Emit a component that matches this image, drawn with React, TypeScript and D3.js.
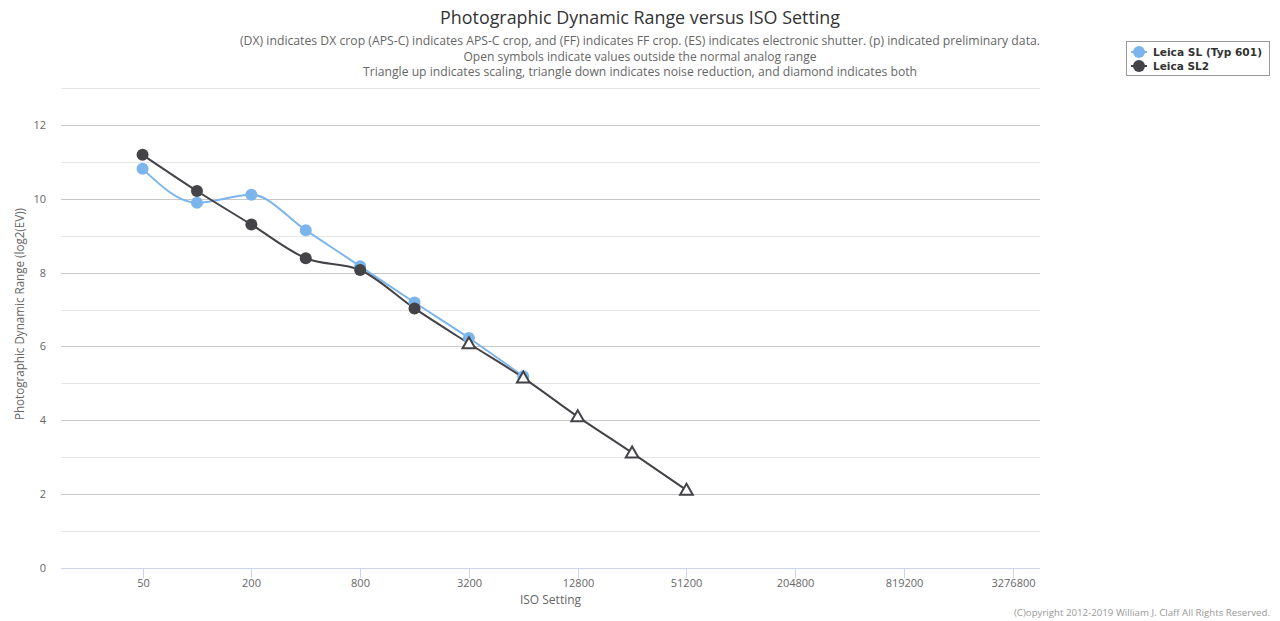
import { useEffect, useRef } from "react";
import * as d3 from "d3";

// ISO settings and measured dynamic range (EV)
const isoSL = [50, 100, 200, 400, 800, 1600, 3200, 6400];
const drSL = [10.81, 9.89, 10.11, 9.15, 8.17, 7.19, 6.23, 5.19];

const isoSL2 = [50, 100, 200, 400, 800, 1600, 3200, 6400, 12800, 25600, 51200];
const drSL2 = [11.19, 10.21, 9.3, 8.39, 8.07, 7.03, 6.08, 5.15, 4.1, 3.12, 2.11];
// open triangle = scaling (outside normal analog range)
const scaledSL2 = [false, false, false, false, false, false, true, true, true, true, true];

const seriesNames = ["Leica SL (Typ 601)", "Leica SL2"];
const seriesColors = ["#7cb5ec", "#434348"];

const xTicks = [50, 200, 800, 3200, 12800, 51200, 204800, 819200, 3276800];
const yTicks = [0, 2, 4, 6, 8, 10, 12];

const titleText = "Photographic Dynamic Range versus ISO Setting";
const subtitleLines = [
  "(DX) indicates DX crop (APS-C) indicates APS-C crop, and (FF) indicates FF crop. (ES) indicates electronic shutter. (p) indicated preliminary data.",
  "Open symbols indicate values outside the normal analog range",
  "Triangle up indicates scaling, triangle down indicates noise reduction, and diamond indicates both",
];

const FONT = "'Open Sans', 'DejaVu Sans', sans-serif";

export default function App() {
  const svgRef = useRef<SVGSVGElement>(null);
  const width = 1280;
  const height = 621;

  useEffect(() => {
    if (!svgRef.current) return;
    const svg = d3.select(svgRef.current);
    svg.selectAll("*").remove();

    const margin = { top: 88, right: 240, bottom: 53, left: 61 };
    const innerW = width - margin.left - margin.right;
    const innerH = height - margin.top - margin.bottom;

    const x = d3
      .scaleLog()
      .base(2)
      .domain([50 / Math.pow(2, 1.5), 3276800 * Math.pow(2, 0.5)])
      .range([margin.left, margin.left + innerW]);
    const y = d3.scaleLinear().domain([0, 13]).range([margin.top + innerH, margin.top]);

    // title + subtitle
    svg
      .append("text")
      .attr("x", 640)
      .attr("y", 24)
      .attr("text-anchor", "middle")
      .attr("font-family", FONT)
      .attr("font-size", 18)
      .attr("fill", "#333333")
      .attr("textLength", 400)
      .attr("lengthAdjust", "spacingAndGlyphs")
      .text(titleText);

    const subLens = [800, 353, 554];
    subtitleLines.forEach((line, i) => {
      svg
        .append("text")
        .attr("x", 640)
        .attr("y", 45 + i * 15.5)
        .attr("text-anchor", "middle")
        .attr("font-family", FONT)
        .attr("font-size", 12)
        .attr("fill", "#666666")
        .attr("textLength", subLens[i])
        .attr("lengthAdjust", "spacingAndGlyphs")
        .text(line);
    });

    // gridlines
    const grid = svg.append("g");
    d3.range(1, 14).forEach((v) => {
      grid
        .append("line")
        .attr("x1", margin.left)
        .attr("x2", margin.left + innerW)
        .attr("y1", Math.round(y(v)) + 0.5)
        .attr("y2", Math.round(y(v)) + 0.5)
        .attr("stroke", v % 2 === 0 ? "#c8c8c8" : "#e6e6e6")
        .attr("stroke-width", 1);
    });

    // x axis line + ticks
    const xAxis = svg.append("g");
    xAxis
      .append("line")
      .attr("x1", margin.left)
      .attr("x2", margin.left + innerW)
      .attr("y1", Math.round(y(0)) + 0.5)
      .attr("y2", Math.round(y(0)) + 0.5)
      .attr("stroke", "#ccd6eb");
    xTicks.forEach((t) => {
      const px = Math.round(x(t)) + 0.5;
      xAxis
        .append("line")
        .attr("x1", px)
        .attr("x2", px)
        .attr("y1", y(0))
        .attr("y2", y(0) + 10)
        .attr("stroke", "#ccd6eb");
      xAxis
        .append("text")
        .attr("x", px)
        .attr("y", y(0) + 19)
        .attr("text-anchor", "middle")
        .attr("font-family", FONT)
        .attr("font-size", 11)
        .attr("fill", "#666666")
        .text(String(t));
    });
    svg
      .append("text")
      .attr("x", margin.left + innerW / 2)
      .attr("y", 604)
      .attr("text-anchor", "middle")
      .attr("font-family", FONT)
      .attr("font-size", 12)
      .attr("fill", "#666666")
      .text("ISO Setting");

    // y axis labels
    yTicks.forEach((t) => {
      svg
        .append("text")
        .attr("x", 46)
        .attr("y", y(t) + 4)
        .attr("text-anchor", "end")
        .attr("font-family", FONT)
        .attr("font-size", 11)
        .attr("fill", "#666666")
        .text(String(t));
    });
    svg
      .append("text")
      .attr("transform", `translate(24,314) rotate(-90)`)
      .attr("text-anchor", "middle")
      .attr("font-family", FONT)
      .attr("font-size", 12)
      .attr("fill", "#666666")
      .attr("textLength", 212)
      .attr("lengthAdjust", "spacingAndGlyphs")
      .text("Photographic Dynamic Range (log2(EV))");

    // lines
    const line = d3
      .line<[number, number]>()
      .x((d) => x(d[0]))
      .y((d) => y(d[1]))
      .curve(d3.curveMonotoneX);

    const dataSL: [number, number][] = isoSL.map((iso, i) => [iso, drSL[i]]);
    const dataSL2: [number, number][] = isoSL2.map((iso, i) => [iso, drSL2[i]]);

    svg
      .append("path")
      .attr("d", line(dataSL))
      .attr("fill", "none")
      .attr("stroke", seriesColors[0])
      .attr("stroke-width", 2);
    svg
      .append("path")
      .attr("d", line(dataSL2))
      .attr("fill", "none")
      .attr("stroke", seriesColors[1])
      .attr("stroke-width", 2);

    // markers
    svg
      .append("g")
      .selectAll("circle")
      .data(dataSL)
      .enter()
      .append("circle")
      .attr("cx", (d) => x(d[0]))
      .attr("cy", (d) => y(d[1]))
      .attr("r", 6)
      .attr("fill", seriesColors[0]);

    const tri = d3.symbol().type(d3.symbolTriangle).size(70);
    const g2 = svg.append("g");
    dataSL2.forEach((d, i) => {
      if (scaledSL2[i]) {
        g2.append("path")
          .attr("d", tri())
          .attr("transform", `translate(${x(d[0])},${y(d[1]) + 1})`)
          .attr("fill", "#ffffff")
          .attr("stroke", seriesColors[1])
          .attr("stroke-width", 2);
      } else {
        g2.append("circle")
          .attr("cx", x(d[0]))
          .attr("cy", y(d[1]))
          .attr("r", 6)
          .attr("fill", seriesColors[1]);
      }
    });

    // legend
    const lg = svg.append("g").attr("transform", "translate(1126,41)");
    lg.append("rect")
      .attr("x", 0.5)
      .attr("y", 0.5)
      .attr("width", 143)
      .attr("height", 34)
      .attr("fill", "#ffffff")
      .attr("stroke", "#999999");
    const legendLens = [109, 56];
    seriesNames.forEach((name, i) => {
      const cy = 11 + i * 14;
      lg.append("line")
        .attr("x1", 5)
        .attr("x2", 21)
        .attr("y1", cy)
        .attr("y2", cy)
        .attr("stroke", seriesColors[i])
        .attr("stroke-width", 2);
      lg.append("circle").attr("cx", 13).attr("cy", cy).attr("r", 6).attr("fill", seriesColors[i]);
      lg.append("text")
        .attr("x", 27)
        .attr("y", cy + 4)
        .attr("font-family", "'DejaVu Sans', sans-serif")
        .attr("font-size", 11)
        .attr("font-weight", "bold")
        .attr("fill", "#333333")
        .attr("textLength", legendLens[i])
        .attr("lengthAdjust", "spacingAndGlyphs")
        .text(name);
    });

    // credit
    svg
      .append("text")
      .attr("x", 1270)
      .attr("y", 616)
      .attr("text-anchor", "end")
      .attr("font-family", FONT)
      .attr("font-size", 9)
      .attr("fill", "#999999")
      .attr("textLength", 256)
      .attr("lengthAdjust", "spacingAndGlyphs")
      .text("(C)opyright 2012-2019 William J. Claff All Rights Reserved.");
  }, []);

  return (
    <div style={{ position: "absolute", left: 0, top: 0, width, height, background: "#fff" }}>
      <svg ref={svgRef} width={width} height={height} />
    </div>
  );
}
